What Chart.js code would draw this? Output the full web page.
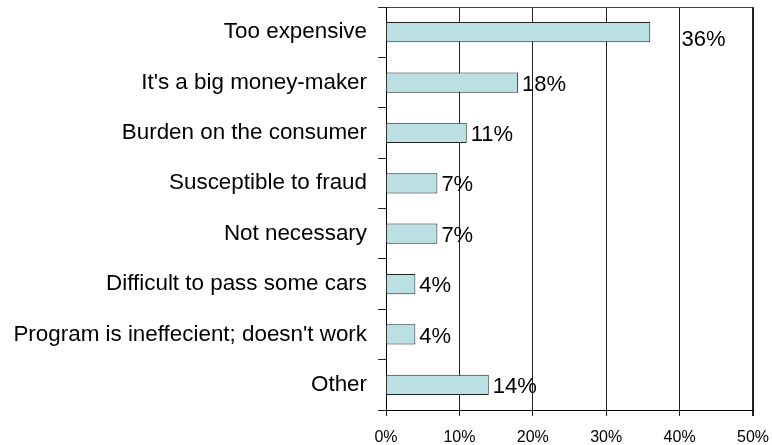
<!DOCTYPE html>
<html>
<head>
  <meta charset="utf-8" />
  <script src="https://cdn.jsdelivr.net/npm/chart.js@4.4.1/dist/chart.umd.min.js"></script>
  <style>
    body{margin:0;background:#fff;}
    #wrap{width:772px;height:445px;}
  </style>
</head>
<body>
<div id="wrap"><canvas id="chart"></canvas></div>
<script>
const categories = [
  'Too expensive',
  "It's a big money-maker",
  'Burden on the consumer',
  'Susceptible to fraud',
  'Not necessary',
  'Difficult to pass some cars',
  "Program is ineffecient; doesn't work",
  'Other'
];
const percents = [36, 18, 11, 7, 7, 4, 4, 14];
const xTicks = [0, 10, 20, 30, 40, 50];

const FONT = "'Liberation Sans', Arial, sans-serif";

// value labels to the right of each bar; the first one sits past the 40% line
const valueLabels = {
  id: 'valueLabels',
  afterDatasetsDraw(chart){
    const ctx = chart.ctx, xs = chart.scales.x;
    const meta = chart.getDatasetMeta(0);
    ctx.save();
    ctx.font = '22px ' + FONT;
    ctx.fillStyle = '#000';
    ctx.textBaseline = 'middle';
    ctx.textAlign = 'left';
    meta.data.forEach((bar, i) => {
      let x = bar.x + 4, y = bar.y + 2;
      if(i === 0){ x = xs.getPixelForValue(40) + 2; y = bar.y + 8; }
      ctx.fillText(percents[i] + '%', x, y);
    });
    ctx.restore();
  }
};

new Chart(document.getElementById('chart'), {
  type: 'bar',
  data: {
    labels: categories,
    datasets: [{
      data: percents,
      backgroundColor: '#bbe0e3',
      borderColor: '#222',
      borderWidth: 1,
      categoryPercentage: 1,
      barPercentage: 0.4
    }]
  },
  options: {
    indexAxis: 'y',
    responsive: true,
    maintainAspectRatio: false,
    animation: false,
    layout: { padding: { top: 7, right: 19, left: 0, bottom: 0 } },
    plugins: { legend: { display: false }, tooltip: { enabled: false } },
    scales: {
      x: {
        min: 0, max: 50,
        afterBuildTicks(s){ s.ticks = xTicks.map(v => ({ value: v })); },
        afterFit(s){ s.height = 35; s.paddingLeft = 0; s.paddingRight = 0; },
        ticks: {
          callback: v => v + '%',
          color: '#000',
          font: { family: FONT, size: 16 },
          padding: 12,
          maxRotation: 0
        },
        grid: {
          color: '#222',
          lineWidth: c => (c.tick && c.tick.value === 50) ? 2 : 1,
          tickColor: '#222',
          tickLength: 6
        },
        border: { color: '#000', width: 1 }
      },
      y: {
        afterFit(s){ s.width = 386; s.paddingTop = 0; s.paddingBottom = 0; },
        ticks: {
          color: '#000',
          font: { family: FONT, size: 22.4 },
          padding: 11
        },
        grid: {
          offset: true,
          color: c => c.index === 0 ? '#444' : 'rgba(0,0,0,0)',
          tickColor: '#222',
          tickLength: 8
        },
        border: { color: '#000', width: 1 }
      }
    }
  },
  plugins: [valueLabels]
});
</script>
</body>
</html>
